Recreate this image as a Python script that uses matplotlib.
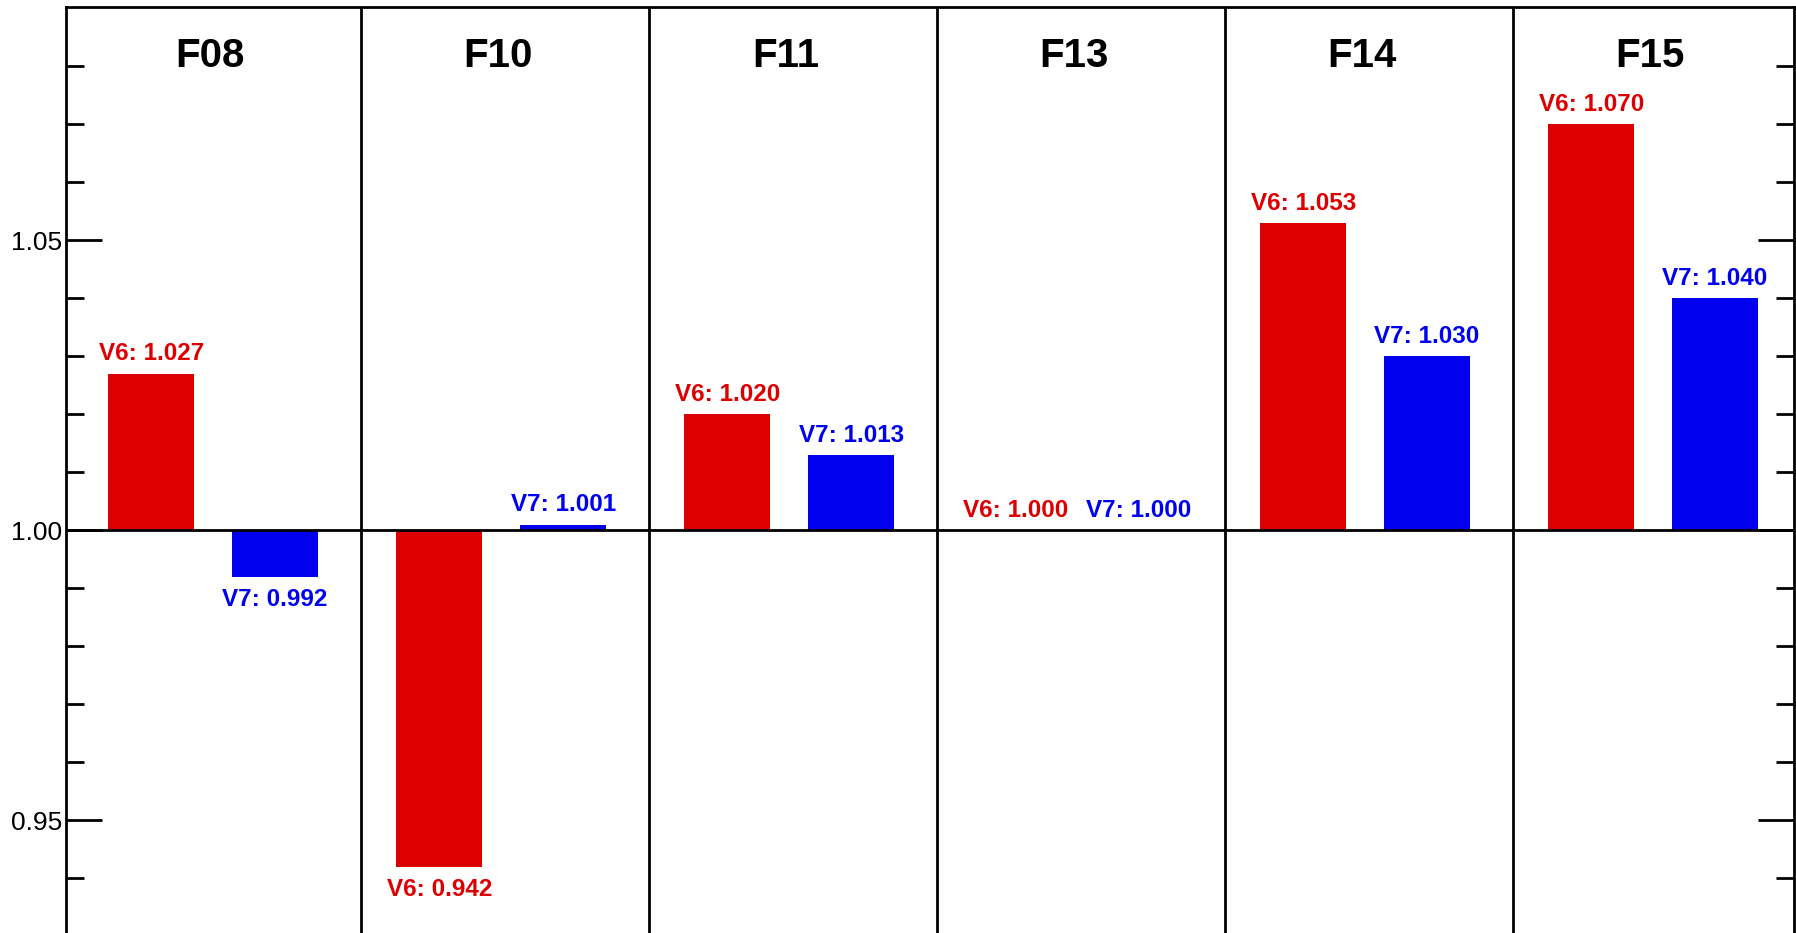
import numpy as np
import matplotlib
matplotlib.use("Agg")
import matplotlib.pyplot as plt
from matplotlib.ticker import FixedLocator, FormatStrFormatter

# data
categories = ["F08", "F10", "F11", "F13", "F14", "F15"]
v6_values = [1.027, 0.942, 1.020, 1.000, 1.053, 1.070]
v7_values = [0.992, 1.001, 1.013, 1.000, 1.030, 1.040]
baseline = 1.0

red = "#dd0000"
blue = "#0000ee"

plt.rcParams["font.family"] = ["Liberation Sans", "DejaVu Sans"]

fig = plt.figure(figsize=(17.96, 9.33), dpi=100)
ax = fig.add_axes([66 / 1796, 0.0, 1728 / 1796, 926 / 933])

x = np.arange(len(categories))
width = 0.3
ax.bar(x - 0.23, np.array(v6_values) - baseline, width, bottom=baseline, color=red, zorder=2)
ax.bar(x + 0.20, np.array(v7_values) - baseline, width, bottom=baseline, color=blue, zorder=2)

ax.set_xlim(-0.526, len(categories) - 0.526)
ax.set_ylim(0.9306, 1.0902)

# panel separators and baseline
for k in range(len(categories) - 1):
    ax.axvline(k + 0.5, color="black", lw=2, zorder=3)
ax.axhline(baseline, color="black", lw=2, zorder=3)

# value labels
def put_label(xpos, val, name, color):
    if val >= baseline:
        off, va = 6, "bottom"
    else:
        off, va = -8, "top"
    ax.annotate(f"{name}: {val:.3f}", (xpos, val), xytext=(0, off),
                textcoords="offset points", ha="center", va=va,
                color=color, fontsize=17.5, fontweight="bold", zorder=4)

for i in range(len(categories)):
    put_label(x[i] - 0.23, v6_values[i], "V6", red)
    put_label(x[i] + 0.20, v7_values[i], "V7", blue)
    ax.text(x[i] - 0.025, 1.0818, categories[i], ha="center", va="center",
            fontsize=29, fontweight="bold")

# axes styling
ax.set_xticks([])
ax.yaxis.set_major_locator(FixedLocator([0.95, 1.00, 1.05]))
ax.yaxis.set_minor_locator(FixedLocator([0.94, 0.96, 0.97, 0.98, 0.99,
                                         1.01, 1.02, 1.03, 1.04, 1.06, 1.07, 1.08]))
ax.yaxis.set_major_formatter(FormatStrFormatter("%.2f"))
ax.tick_params(axis="y", which="both", direction="in", left=True, right=True,
               labelright=False, width=2, labelsize=19, pad=3)
ax.tick_params(axis="y", which="major", length=26)
ax.tick_params(axis="y", which="minor", length=13)
for side in ["left", "right", "top"]:
    ax.spines[side].set_linewidth(2)
ax.spines["bottom"].set_visible(False)

plt.savefig("out.png", dpi=100)
